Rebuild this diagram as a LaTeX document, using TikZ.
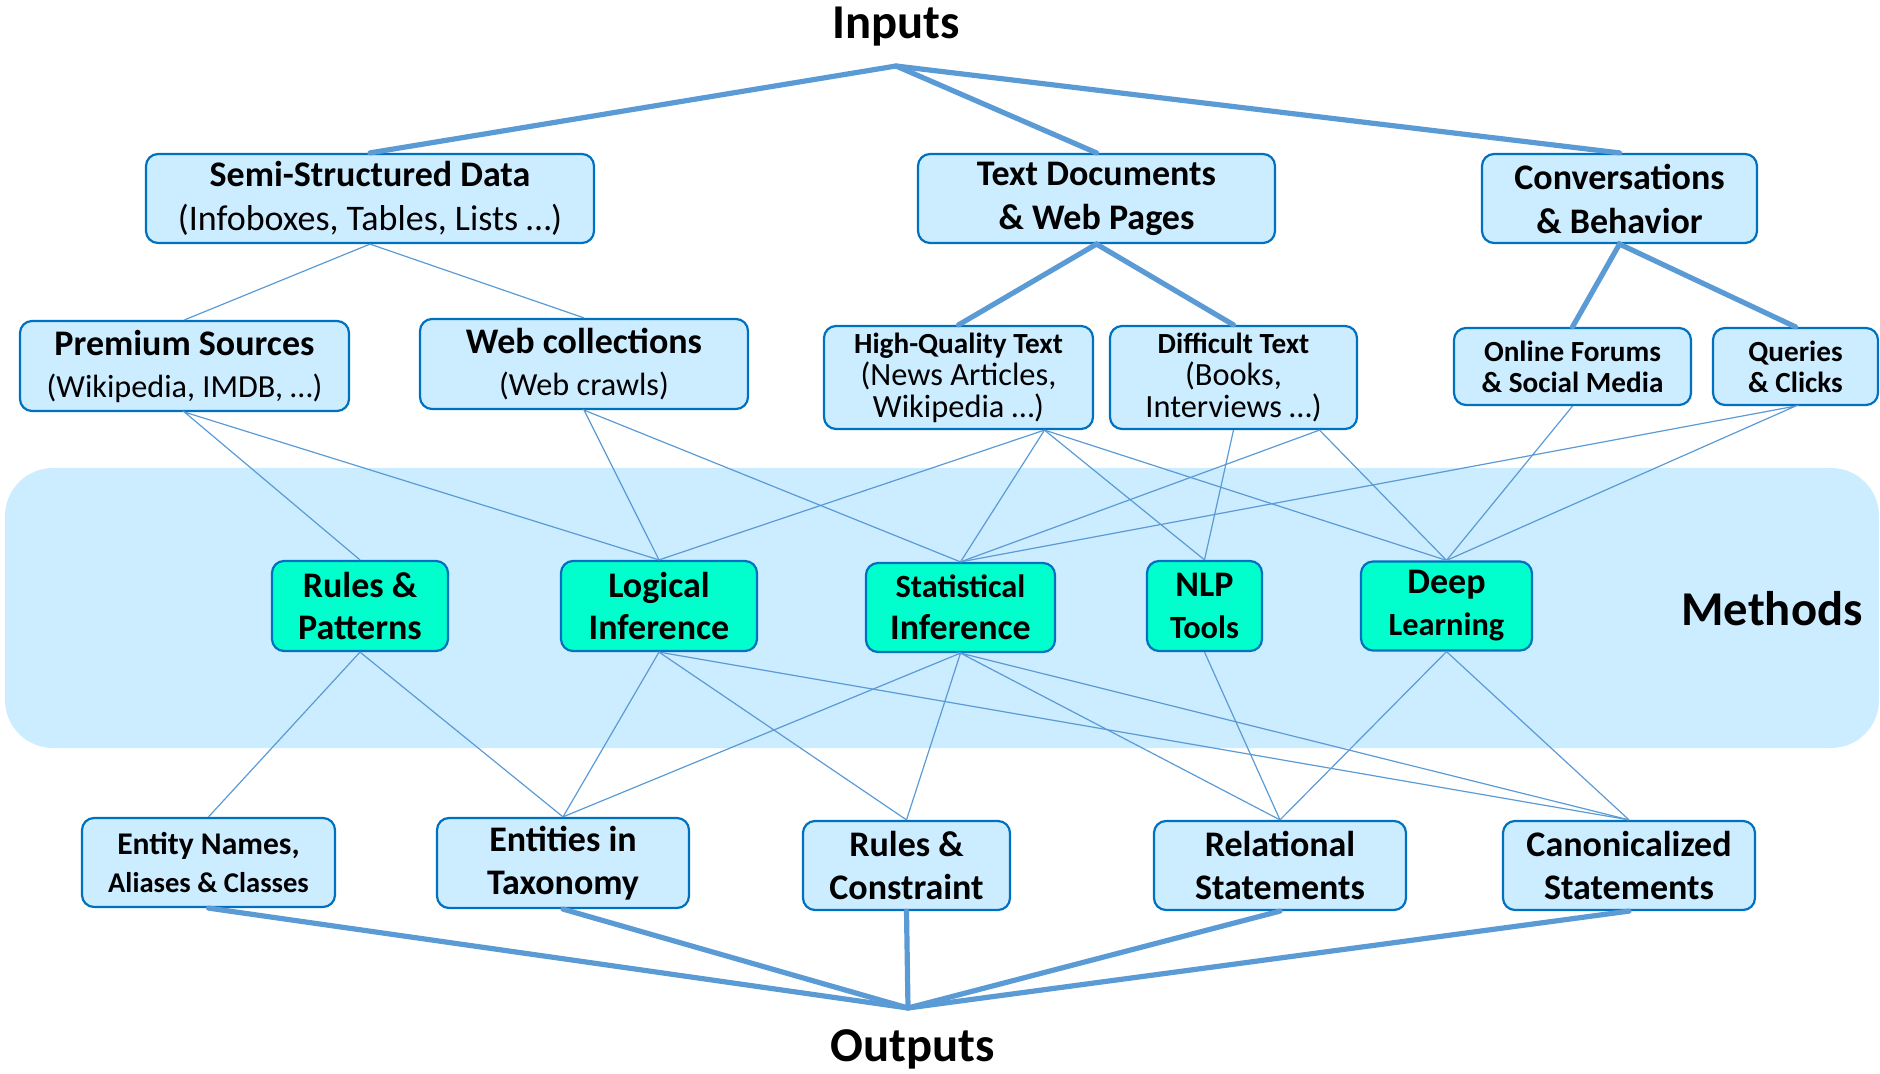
\documentclass[tikz,border=0pt]{standalone}
\usepackage{fontspec}
\setmainfont{Carlito}
\definecolor{boxfill}{RGB}{204,236,255}
\definecolor{boxline}{RGB}{0,112,192}
\definecolor{methfill}{RGB}{0,255,204}
\definecolor{wire}{RGB}{91,155,213}

\begin{document}
\begin{tikzpicture}[x=0.5pt,y=-0.5pt,
    srcbox/.style={draw=boxline, line width=1.1pt, fill=boxfill, rounded corners=6pt,
      align=center, inner sep=0pt, font=\fontsize{18}{22}\selectfont},
    methbox/.style={srcbox, fill=methfill, font=\fontsize{18}{21}\selectfont\bfseries},
    dims/.style 2 args={minimum width=#1pt, minimum height=#2pt},
    small/.style={font=\fontsize{16.2}{16}\selectfont},
    smallbf/.style={font=\fontsize{14.6}{15.5}\selectfont\bfseries},
    trunk/.style={draw=wire, line width=2.6pt, line cap=round},
    twig/.style={draw=wire, line width=0.6pt},
    title/.style={font=\fontsize{24.3}{28}\selectfont\bfseries}]
      \useasboundingbox (0,0) rectangle (1880,1074);
      \fill[boxfill, rounded corners=24pt] (5,468) rectangle (1879,748);

      % labels
      \node[title] (inputs) at (896,27) {Inputs};
      \node[title] (methods) at (1772,609) {Methods};
      \node[title] (outputs) at (913,1049) {Outputs};
      \coordinate (injoin) at (896,66);
      \coordinate (outjoin) at (908,1008);

      % inputs
      \node[srcbox, dims={224}{44.5}] (semi) at (370,198.5) {\textbf{Semi-Structured Data}\\(Infoboxes, Tables, Lists …)};
      \node[srcbox, dims={178.5}{44.5}, font=\fontsize{18}{22}\selectfont\bfseries] (textdoc) at (1096.5,198.5) {Text Documents\\\& Web Pages};
      \node[srcbox, dims={137.5}{44.5}, font=\fontsize{18}{22}\selectfont\bfseries] (conv) at (1619.5,198.5) {Conversations\\\& Behavior};

      \node[srcbox, dims={164.5}{45}, font=\fontsize{16.1}{21}\selectfont] (premium) at (184.5,366) {{\fontsize{18}{21}\selectfont\bfseries Premium Sources}\\(Wikipedia, IMDB, …)};
      \node[srcbox, dims={164}{45}, font=\fontsize{16.1}{21}\selectfont] (webcol) at (584,364) {{\fontsize{18}{21}\selectfont\bfseries Web collections}\\(Web crawls)};
      \node[srcbox, dims={134.5}{51.5}, small] (hq) at (958.5,377.5) {{\fontsize{14.6}{16}\selectfont\bfseries High-Quality Text}\\(News Articles,\\Wikipedia …)};
      \node[srcbox, dims={123.5}{51.5}, small] (diff) at (1233.5,377.5) {{\fontsize{14.6}{16}\selectfont\bfseries Difficult Text}\\(Books,\\Interviews …)};
      \node[srcbox, dims={118.5}{38.5}, smallbf] (forums) at (1572.5,366.5) {Online Forums\\\& Social Media};
      \node[srcbox, dims={82.5}{38.5}, smallbf] (queries) at (1795.5,366.5) {Queries\\\& Clicks};
      \coordinate (hqfoot) at ([xshift=43pt]hq.south);
      \coordinate (difffoot) at ([xshift=43pt]diff.south);

      % methods
      \node[methbox, dims={88}{45}] (rules) at (360,606) {Rules \&\\Patterns};
      \node[methbox, dims={98}{45}] (logic) at (659,606) {Logical\\Inference};
      \node[methbox, dims={94.5}{44.5}] (stat) at (960.5,607.5) {{\fontsize{16.2}{21}\selectfont Statistical}\\Inference};
      \node[methbox, dims={57.5}{45}] (nlp) at (1204.5,606) {NLP\\{\fontsize{16.2}{21}\selectfont Tools}};
      \node[methbox, dims={85.5}{44.5}] (deep) at (1446.5,606) {Deep\\{\fontsize{16.2}{21}\selectfont Learning}};

      % outputs
      \node[srcbox, dims={126.5}{44.5}, font=\fontsize{14.3}{19}\selectfont\bfseries] (names) at (208.5,862.5) {{\fontsize{15.8}{19}\selectfont Entity Names,}\\Aliases \& Classes};
      \node[srcbox, dims={126}{45}, font=\fontsize{18}{21.5}\selectfont\bfseries] (taxo) at (563,863) {Entities in\\Taxonomy};
      \node[srcbox, dims={103.5}{44.5}, font=\fontsize{18}{21.5}\selectfont\bfseries] (constr) at (906.5,865.5) {Rules \&\\Constraint};
      \node[srcbox, dims={126}{44.5}, font=\fontsize{18}{21.5}\selectfont\bfseries] (rel) at (1280,865.5) {Relational\\Statements};
      \node[srcbox, dims={126}{44.5}, font=\fontsize{18}{21.5}\selectfont\bfseries] (canon) at (1629,865.5) {Canonicalized\\Statements};

      % thick tree
      \draw[trunk] (semi.north) -- (injoin) -- (conv.north);
      \draw[trunk] (injoin) -- (textdoc.north);
      \draw[trunk] (hq.north) -- (textdoc.south) -- (diff.north);
      \draw[trunk] (forums.north) -- (conv.south) -- (queries.north);
      \draw[trunk] (names.south) -- (outjoin) -- (canon.south);
      \draw[trunk] (taxo.south) -- (outjoin) -- (rel.south);
      \draw[trunk] (constr.south) -- (outjoin);

      % thin links into methods
      \draw[twig] (premium.north) -- (semi.south) -- (webcol.north);
      \draw[twig] (rules.north) -- (premium.south) -- (logic.north);
      \draw[twig] (logic.north) -- (webcol.south) -- (stat.north);
      \draw[twig] (hqfoot) -- (logic.north);
      \draw[twig] (hqfoot) -- (stat.north);
      \draw[twig] (hqfoot) -- (nlp.north);
      \draw[twig] (hqfoot) -- (deep.north);
      \draw[twig] (diff.south) -- (nlp.north);
      \draw[twig] (stat.north) -- (difffoot) -- (deep.north);
      \draw[twig] (forums.south) -- (deep.north);
      \draw[twig] (stat.north) -- (queries.south) -- (deep.north);

      % thin links out of methods
      \draw[twig] (names.north) -- (rules.south) -- (taxo.north);
      \draw[twig] (taxo.north) -- (logic.south) -- (constr.north);
      \draw[twig] (logic.south) -- (canon.north);
      \draw[twig] (taxo.north) -- (stat.south) -- (constr.north);
      \draw[twig] (rel.north) -- (stat.south) -- (canon.north);
      \draw[twig] (nlp.south) -- (rel.north);
      \draw[twig] (rel.north) -- (deep.south) -- (canon.north);
    \end{tikzpicture}
\end{document}
